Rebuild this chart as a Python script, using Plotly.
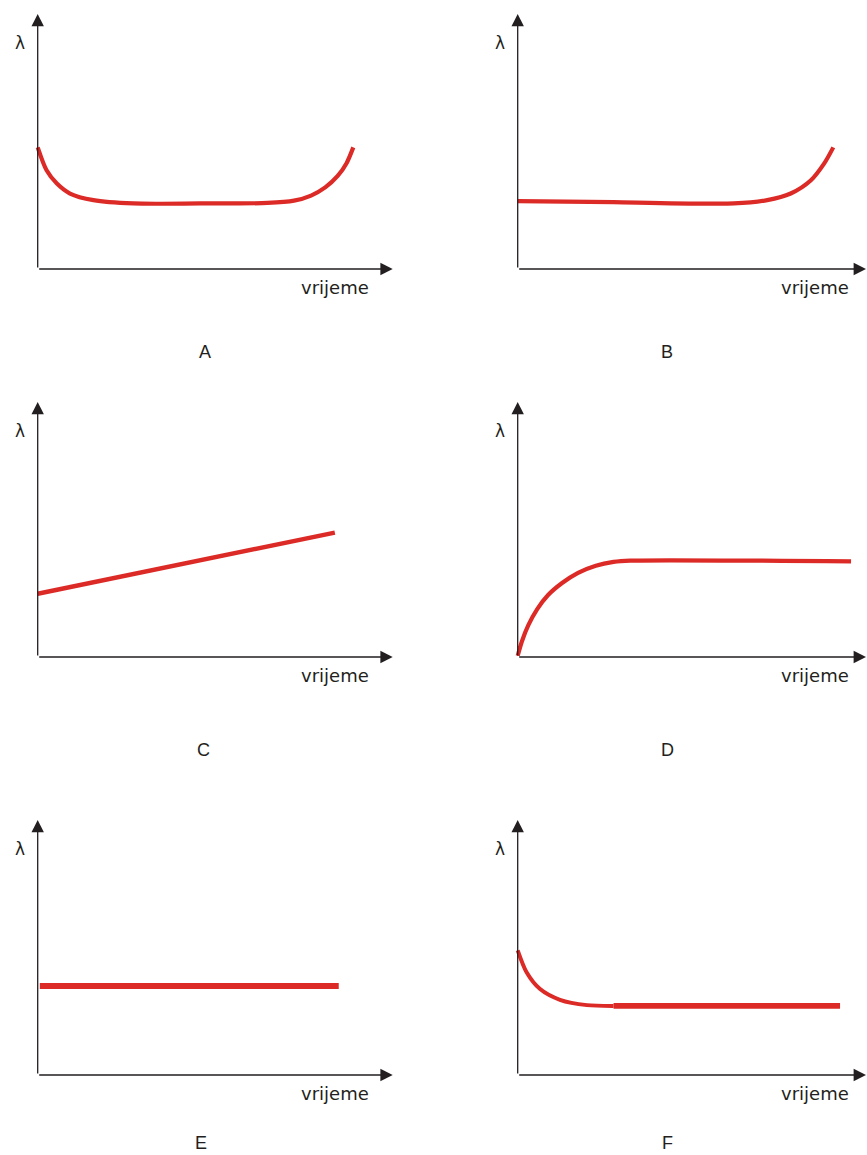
import plotly.graph_objects as go

# ---------------- data (time in arbitrary units 0..10, lambda 0..10) ----------------
panel_labels = ["A", "B", "C", "D", "E", "F"]
x_axis_label = "vrijeme"
y_axis_label = "λ"

# A: bathtub curve
a_time = [0.0, 0.25, 0.54, 0.91, 1.57, 2.69, 4.58, 6.47, 7.22, 7.70, 8.10, 8.45, 8.70, 8.89]
a_lam = [4.77, 3.87, 3.35, 2.96, 2.70, 2.57, 2.57, 2.59, 2.68, 2.88, 3.20, 3.65, 4.15, 4.77]

# B: flat then wear-out rise
b_time = [0.0, 2.70, 6.09, 7.03, 7.69, 8.26, 8.63, 8.89]
b_lam = [2.66, 2.62, 2.57, 2.70, 2.96, 3.48, 4.13, 4.77]

# C: linear increase
c_time = [0.0, 8.37]
c_lam = [2.48, 4.88]

# D: rising to plateau
d_time = [0.0, 0.12, 0.30, 0.55, 0.85, 1.25, 1.70, 2.20, 2.70, 3.17, 9.39]
d_lam = [0.05, 0.62, 1.25, 1.88, 2.42, 2.90, 3.30, 3.58, 3.73, 3.78, 3.75]

# E: constant
e_time = [0.06, 8.48]
e_lam = [3.49, 3.49]

# F: early decrease then constant
f_curve_time = [0.0, 0.25, 0.63, 1.19, 1.95, 2.70]
f_curve_lam = [4.89, 4.03, 3.37, 2.95, 2.74, 2.71]
f_flat_time = [2.70, 9.08]
f_flat_lam = [2.71, 2.71]

# ---------------- layout constants ----------------
W, H = 867, 1155
COL_X0 = [37.7, 517.7]          # pixel x of y-axis
ROW_Y0 = [269, 657, 1075]       # pixel y of x-axis
LETTER_X = [[205, 667], [203, 667], [201, 667]]
LETTER_Y = [352, 750, 1143]
XLEN, YLEN = 355, 255           # axis length (px) to arrow tip
PAD = 8                         # px padding so lines are not clipped
RED = "#dc2a27"
INK = "#231f20"

series = [
    [(a_time, a_lam, 4.2)],
    [(b_time, b_lam, 4.2)],
    [(c_time, c_lam, 4.4)],
    [(d_time, d_lam, 4.2)],
    [(e_time, e_lam, 5.8)],
    [(f_curve_time, f_curve_lam, 4.0), (f_flat_time, f_flat_lam, 5.6)],
]

fig = go.Figure()
annotations = []
layout_axes = {}

for i, lab in enumerate(panel_labels):
    row, col = divmod(i, 2)
    x0 = COL_X0[col]
    y0 = ROW_Y0[row]
    xs = XLEN / 10.0
    ys = YLEN / 10.0
    dx_lo = x0 - PAD
    dx_hi = min(x0 + XLEN, W)
    dy_lo = y0 + PAD
    dy_hi = y0 - YLEN
    n = i + 1
    xa = "xaxis" if n == 1 else f"xaxis{n}"
    ya = "yaxis" if n == 1 else f"yaxis{n}"
    layout_axes[xa] = dict(
        domain=[dx_lo / W, dx_hi / W],
        range=[-PAD / xs, (dx_hi - x0) / xs],
        visible=False, fixedrange=True,
    )
    layout_axes[ya] = dict(
        domain=[1 - dy_lo / H, 1 - dy_hi / H],
        range=[-PAD / ys, 10],
        visible=False, fixedrange=True,
    )
    xr = "x" if n == 1 else f"x{n}"
    yr = "y" if n == 1 else f"y{n}"
    for t, lam, w in series[i]:
        fig.add_trace(go.Scatter(
            x=t, y=lam, mode="lines", xaxis=xr, yaxis=yr,
            line=dict(color=RED, width=w, shape="spline", smoothing=0.8),
            showlegend=False, hoverinfo="skip",
        ))
    arrow_style = dict(showarrow=True, arrowhead=2, arrowsize=1.9, arrowwidth=1.3,
                       arrowcolor=INK, standoff=0, text="",
                       xref="paper", yref="paper", axref="pixel", ayref="pixel")
    # x axis arrow
    annotations.append(dict(x=(x0 + XLEN) / W, y=1 - y0 / H, ax=-XLEN, ay=0, **arrow_style))
    # y axis arrow
    annotations.append(dict(x=x0 / W, y=1 - (y0 - YLEN) / H, ax=0, ay=YLEN, **arrow_style))
    # lambda label
    annotations.append(dict(
        xref="paper", yref="paper", x=(x0 - 18) / W, y=1 - (y0 - 226) / H,
        text=y_axis_label, showarrow=False, xanchor="center", yanchor="middle",
        font=dict(family="DejaVu Sans", size=17, color=INK),
    ))
    # time label
    annotations.append(dict(
        xref="paper", yref="paper", x=(x0 + 297) / W, y=1 - (y0 + 18) / H,
        text=x_axis_label, showarrow=False, xanchor="center", yanchor="middle",
        font=dict(family="DejaVu Sans", size=18, color=INK),
    ))
    # panel letter
    annotations.append(dict(
        xref="paper", yref="paper", x=LETTER_X[row][col] / W, y=1 - LETTER_Y[row] / H,
        text=lab, showarrow=False, xanchor="center", yanchor="middle",
        font=dict(family="Liberation Sans", size=18, color=INK),
    ))

fig.update_layout(
    width=W, height=H,
    margin=dict(l=0, r=0, t=0, b=0),
    paper_bgcolor="white", plot_bgcolor="rgba(0,0,0,0)",
    annotations=annotations,
    **layout_axes,
)

fig.write_html(
    "out.html",
    config={"displayModeBar": False},
    post_script="document.body.style.margin='0px';document.body.style.overflow='hidden';",
)
